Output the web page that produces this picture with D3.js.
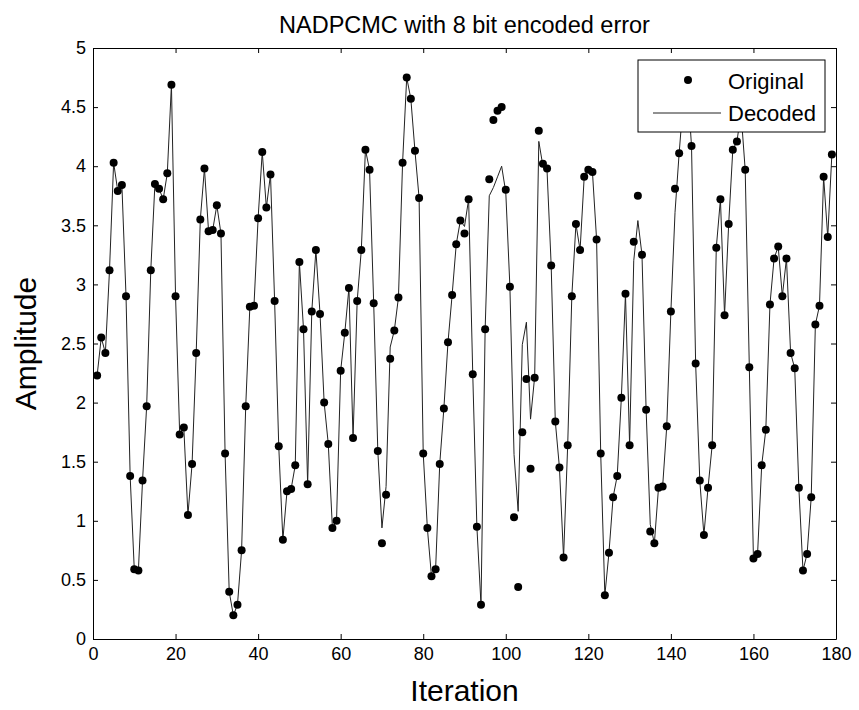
<!DOCTYPE html>
<html>
<head>
<meta charset="utf-8">
<script src="https://cdn.jsdelivr.net/npm/d3@7"></script>
<style>
  body { margin: 0; background: #fff; }
  text { font-family: "Liberation Sans", Arial, sans-serif; fill: #000; }
</style>
</head>
<body>
<div id="chart"></div>
<script>
// values, iteration 1..179
const original = [
  2.23, 2.55, 2.42, 3.12, 4.03, 3.79, 3.84, 2.90, 1.38, 0.59,
  0.58, 1.34, 1.97, 3.12, 3.85, 3.81, 3.72, 3.94, 4.69, 2.90,
  1.73, 1.79, 1.05, 1.48, 2.42, 3.55, 3.98, 3.45, 3.46, 3.67,
  3.43, 1.57, 0.40, 0.20, 0.29, 0.75, 1.97, 2.81, 2.82, 3.56,
  4.12, 3.65, 3.93, 2.86, 1.63, 0.84, 1.25, 1.27, 1.47, 3.19,
  2.62, 1.31, 2.77, 3.29, 2.75, 2.00, 1.65, 0.94, 1.00, 2.27,
  2.59, 2.97, 1.70, 2.86, 3.29, 4.14, 3.97, 2.84, 1.59, 0.81,
  1.22, 2.37, 2.61, 2.89, 4.03, 4.75, 4.57, 4.13, 3.73, 1.57,
  0.94, 0.53, 0.59, 1.48, 1.95, 2.51, 2.91, 3.34, 3.54, 3.43,
  3.72, 2.24, 0.95, 0.29, 2.62, 3.89, 4.39, 4.47, 4.50, 3.80,
  2.98, 1.03, 0.44, 1.75, 2.20, 1.44, 2.21, 4.30, 4.02, 3.98,
  3.16, 1.84, 1.45, 0.69, 1.64, 2.90, 3.51, 3.29, 3.91, 3.97,
  3.95, 3.38, 1.57, 0.37, 0.73, 1.20, 1.38, 2.04, 2.92, 1.64,
  3.36, 3.75, 3.25, 1.94, 0.91, 0.81, 1.28, 1.29, 1.80, 2.77,
  3.81, 4.11, 4.55, 4.70, 4.17, 2.33, 1.34, 0.88, 1.28, 1.64,
  3.31, 3.72, 2.74, 3.51, 4.14, 4.21, 4.45, 3.97, 2.30, 0.68,
  0.72, 1.47, 1.77, 2.83, 3.22, 3.32, 2.90, 3.22, 2.42, 2.29,
  1.28, 0.58, 0.72, 1.20, 2.66, 2.82, 3.91, 3.40, 4.10
];
const decoded = [
  2.23, 2.55, 2.42, 3.12, 4.03, 3.79, 3.84, 2.90, 1.38, 0.59,
  0.58, 1.34, 1.97, 3.12, 3.85, 3.81, 3.72, 3.94, 4.69, 2.90,
  1.73, 1.79, 1.05, 1.48, 2.42, 3.55, 3.98, 3.45, 3.46, 3.67,
  3.43, 1.57, 0.40, 0.20, 0.29, 0.75, 1.97, 2.81, 2.82, 3.56,
  4.12, 3.65, 3.93, 2.86, 1.63, 0.84, 1.25, 1.27, 1.47, 3.19,
  2.62, 1.31, 2.77, 3.29, 2.75, 2.00, 1.65, 0.94, 1.00, 2.27,
  2.59, 2.97, 1.70, 2.86, 3.29, 4.14, 3.97, 2.84, 1.59, 0.94,
  1.29, 2.47, 2.61, 2.89, 4.03, 4.75, 4.57, 4.13, 3.73, 1.57,
  0.94, 0.53, 0.59, 1.48, 1.95, 2.51, 2.91, 3.34, 3.54, 3.49,
  3.72, 2.24, 0.95, 0.29, 2.62, 3.75, 3.82, 3.91, 4.00, 3.78,
  2.98, 1.56, 1.08, 2.49, 2.68, 1.86, 2.22, 4.21, 4.00, 3.96,
  3.16, 1.84, 1.45, 0.69, 1.64, 2.90, 3.51, 3.29, 3.91, 3.97,
  3.95, 3.38, 1.57, 0.37, 0.73, 1.20, 1.38, 2.04, 2.92, 1.64,
  3.20, 3.54, 3.25, 1.94, 0.97, 0.81, 1.28, 1.29, 1.80, 2.77,
  3.61, 4.11, 4.55, 4.70, 4.17, 2.33, 1.34, 0.88, 1.28, 1.64,
  3.31, 3.72, 2.74, 3.51, 4.14, 4.21, 4.45, 3.97, 2.30, 0.68,
  0.72, 1.47, 1.77, 2.83, 3.22, 3.32, 2.90, 3.22, 2.42, 2.29,
  1.28, 0.58, 0.72, 1.20, 2.66, 2.82, 3.91, 3.40, 4.10
];
const xTicks = [0, 20, 40, 60, 80, 100, 120, 140, 160, 180];
const yTicks = [0, 0.5, 1, 1.5, 2, 2.5, 3, 3.5, 4, 4.5, 5];
const seriesNames = ["Original", "Decoded"];

const width = 859, height = 710;
const margin = {top: 48, right: 23, bottom: 71, left: 93};
const innerW = width - margin.left - margin.right,
      innerH = height - margin.top - margin.bottom;

const svg = d3.select("#chart").append("svg")
    .attr("width", width)
    .attr("height", height)
    .style("background", "#fff");

const x = d3.scaleLinear().domain([0, 180]).range([0, innerW]);
const y = d3.scaleLinear().domain([0, 5]).range([innerH, 0]);

const g = svg.append("g")
    .attr("transform", "translate(" + margin.left + "," + margin.top + ")");

// axes, matlab style: ticks inside, box on all four sides
const fmt = d => String(d);
g.append("g").attr("class", "axis")
    .attr("transform", "translate(0," + innerH + ")")
    .call(d3.axisBottom(x).tickValues(xTicks).tickFormat(fmt).tickSizeInner(-5).tickSizeOuter(0).tickPadding(8));
g.append("g").attr("class", "axis")
    .call(d3.axisTop(x).tickValues(xTicks).tickFormat("").tickSizeInner(-5).tickSizeOuter(0));
g.append("g").attr("class", "axis")
    .call(d3.axisLeft(y).tickValues(yTicks).tickFormat(fmt).tickSizeInner(-5).tickSizeOuter(0).tickPadding(7));
g.append("g").attr("class", "axis")
    .attr("transform", "translate(" + innerW + ",0)")
    .call(d3.axisRight(y).tickValues(yTicks).tickFormat("").tickSizeInner(-5).tickSizeOuter(0));

g.selectAll(".axis path").attr("stroke", "#000").attr("stroke-width", 1);
g.selectAll(".axis line").attr("stroke", "#000").attr("stroke-width", 1);
g.selectAll(".axis text").style("font-size", "18px").style("font-family", "Liberation Sans, Arial, sans-serif");

// decoded line
const line = d3.line()
    .x((d, i) => x(i + 1))
    .y(d => y(d));

g.append("path")
    .datum(decoded)
    .attr("fill", "none")
    .attr("stroke", "#222")
    .attr("stroke-width", 1)
    .attr("d", line);

// original points
g.selectAll(".dot")
    .data(original)
    .enter().append("circle")
    .attr("class", "dot")
    .attr("cx", (d, i) => x(i + 1))
    .attr("cy", d => y(d))
    .attr("r", 4)
    .attr("fill", "#000");

// legend
const lgW = 187, lgH = 72;
const lg = g.append("g").attr("transform", "translate(" + (innerW - 11 - lgW) + ",12)");
lg.append("rect")
    .attr("width", lgW).attr("height", lgH)
    .attr("fill", "#fff").attr("stroke", "#000").attr("stroke-width", 1);
lg.append("circle").attr("cx", 50).attr("cy", 20).attr("r", 4).attr("fill", "#000");
lg.append("line").attr("x1", 15).attr("x2", 83).attr("y1", 53).attr("y2", 53)
    .attr("stroke", "#222").attr("stroke-width", 1);
lg.selectAll(".lgtext")
    .data(seriesNames)
    .enter().append("text")
    .attr("x", 90)
    .attr("y", (d, i) => 21 + i * 32)
    .attr("dy", "0.35em")
    .style("font-size", "22px")
    .text(d => d);

// title and axis labels
svg.append("text")
    .attr("x", margin.left + innerW / 2)
    .attr("y", 33)
    .attr("text-anchor", "middle")
    .style("font-size", "23.5px")
    .text("NADPCMC with 8 bit encoded error");

svg.append("text")
    .attr("x", margin.left + innerW / 2)
    .attr("y", 701)
    .attr("text-anchor", "middle")
    .style("font-size", "30px")
    .text("Iteration");

svg.append("text")
    .attr("transform", "translate(36," + (margin.top + innerH / 2) + ") rotate(-90)")
    .attr("text-anchor", "middle")
    .style("font-size", "30px")
    .text("Amplitude");
</script>
</body>
</html>
